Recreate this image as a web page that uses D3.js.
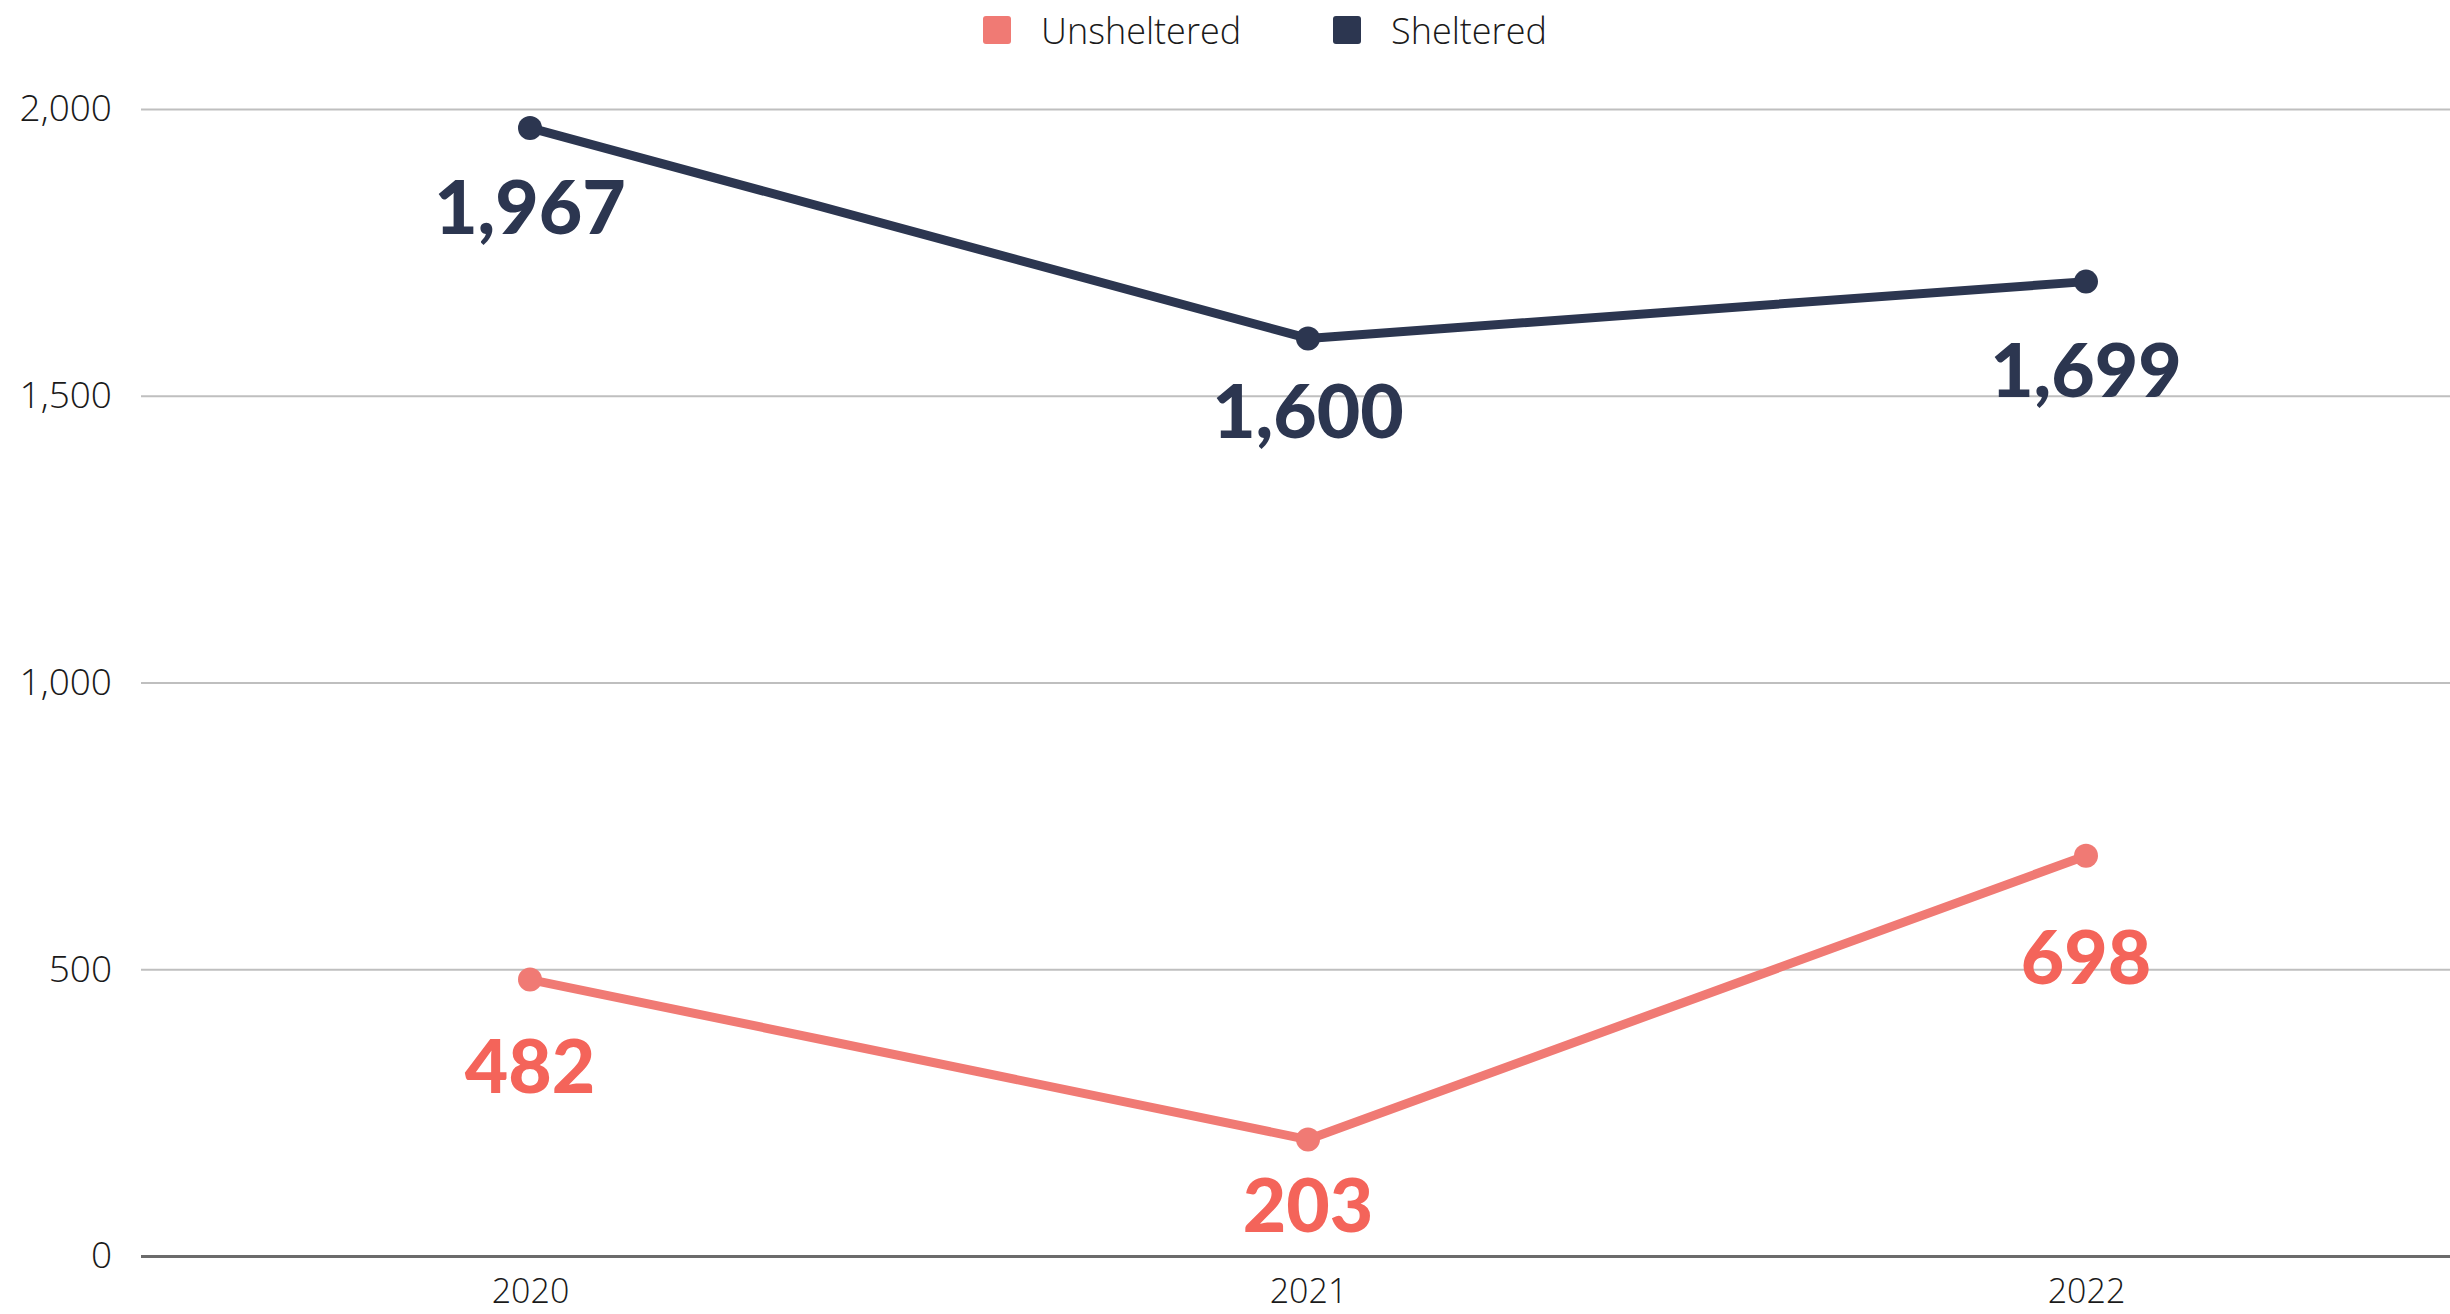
<!DOCTYPE html>
<html>
<head>
<meta charset="utf-8">
<script src="https://cdn.jsdelivr.net/npm/d3@7/dist/d3.min.js"></script>
<style>
  html, body { margin: 0; padding: 0; background: #ffffff; }
  svg { display: block; }
</style>
</head>
<body>
<svg id="chart" width="2450" height="1314"></svg>
<script>
// ---- data ----
const years = ["2020", "2021", "2022"];
const sheltered = [1967, 1600, 1699];
const unsheltered = [482, 203, 698];
const yTicks = [0, 500, 1000, 1500, 2000];
const seriesNames = ["Unsheltered", "Sheltered"];

// ---- layout / style ----
const W = 2450, H = 1314;
const plotLeft = 141, plotRight = 2450, plotTop = 109, plotBottom = 1256;
const colors = { Unsheltered: "#f07a74", Sheltered: "#2c3650" };
const labelColors = { Unsheltered: "#f4645a", Sheltered: "#2c3650" };
const labelDy = { Sheltered: [106, 100, 115], Unsheltered: [113, 92, 128] };

const svg = d3.select("#chart");

const x = d3.scalePoint().domain(years).range([plotLeft, 2475]).padding(0.5);
const y = d3.scaleLinear().domain([0, 2000]).range([plotBottom, plotTop]);

// gridlines
const yAxis = d3.axisLeft(y).tickValues(yTicks).tickSize(0).tickPadding(29)
  .tickFormat(d3.format(","));
const gy = svg.append("g").attr("transform", `translate(${plotLeft},0)`).call(yAxis);
gy.select(".domain").remove();
gy.selectAll(".tick text")
  .attr("font-family", "'Open Sans', sans-serif")
  .attr("font-weight", 300)
  .attr("font-size", 37)
  .attr("fill", "#1a1a1a");
gy.selectAll(".tick").append("line")
  .attr("x1", 0).attr("x2", plotRight - plotLeft)
  .attr("stroke", d => d === 0 ? "#6b6b6b" : "#bfbfbf")
  .attr("stroke-width", d => d === 0 ? 3 : 2);

// x axis
const xAxis = d3.axisBottom(x).tickSize(0).tickPadding(0);
const gx = svg.append("g").attr("transform", `translate(0,${plotBottom})`).call(xAxis);
gx.select(".domain").remove();
gx.selectAll(".tick text")
  .attr("dy", null)
  .attr("y", 47)
  .attr("font-family", "'Open Sans', sans-serif")
  .attr("font-weight", 300)
  .attr("font-size", 34)
  .attr("fill", "#1a1a1a");

const series = [
  { name: "Unsheltered", values: unsheltered },
  { name: "Sheltered", values: sheltered }
];

const line = d3.line().x((d, i) => x(years[i])).y(d => y(d));

series.forEach(s => {
  const g = svg.append("g");
  g.append("path")
    .datum(s.values)
    .attr("d", line)
    .attr("fill", "none")
    .attr("stroke", colors[s.name])
    .attr("stroke-width", 9)
    .attr("stroke-linejoin", "round");
  g.selectAll("circle").data(s.values).join("circle")
    .attr("cx", (d, i) => x(years[i]))
    .attr("cy", d => y(d))
    .attr("r", 12)
    .attr("fill", colors[s.name]);
  g.selectAll("text").data(s.values).join("text")
    .attr("x", (d, i) => x(years[i]))
    .attr("y", (d, i) => y(d) + labelDy[s.name][i])
    .attr("text-anchor", "middle")
    .attr("font-family", "Lato, sans-serif")
    .attr("font-weight", 900)
    .attr("font-size", 75)
    .attr("fill", labelColors[s.name])
    .text(d => d3.format(",")(d));
});

// legend
const legendX = [983, 1333];
const legend = svg.append("g");
seriesNames.forEach((n, i) => {
  legend.append("rect")
    .attr("x", legendX[i]).attr("y", 16)
    .attr("width", 28).attr("height", 28)
    .attr("rx", 3)
    .attr("fill", colors[n]);
  legend.append("text")
    .attr("x", legendX[i] + 58).attr("y", 30)
    .attr("dominant-baseline", "central")
    .attr("font-family", "'Open Sans', sans-serif")
    .attr("font-weight", 300)
    .attr("font-size", 36)
    .attr("fill", "#1a1a1a")
    .text(n);
});
</script>
</body>
</html>
